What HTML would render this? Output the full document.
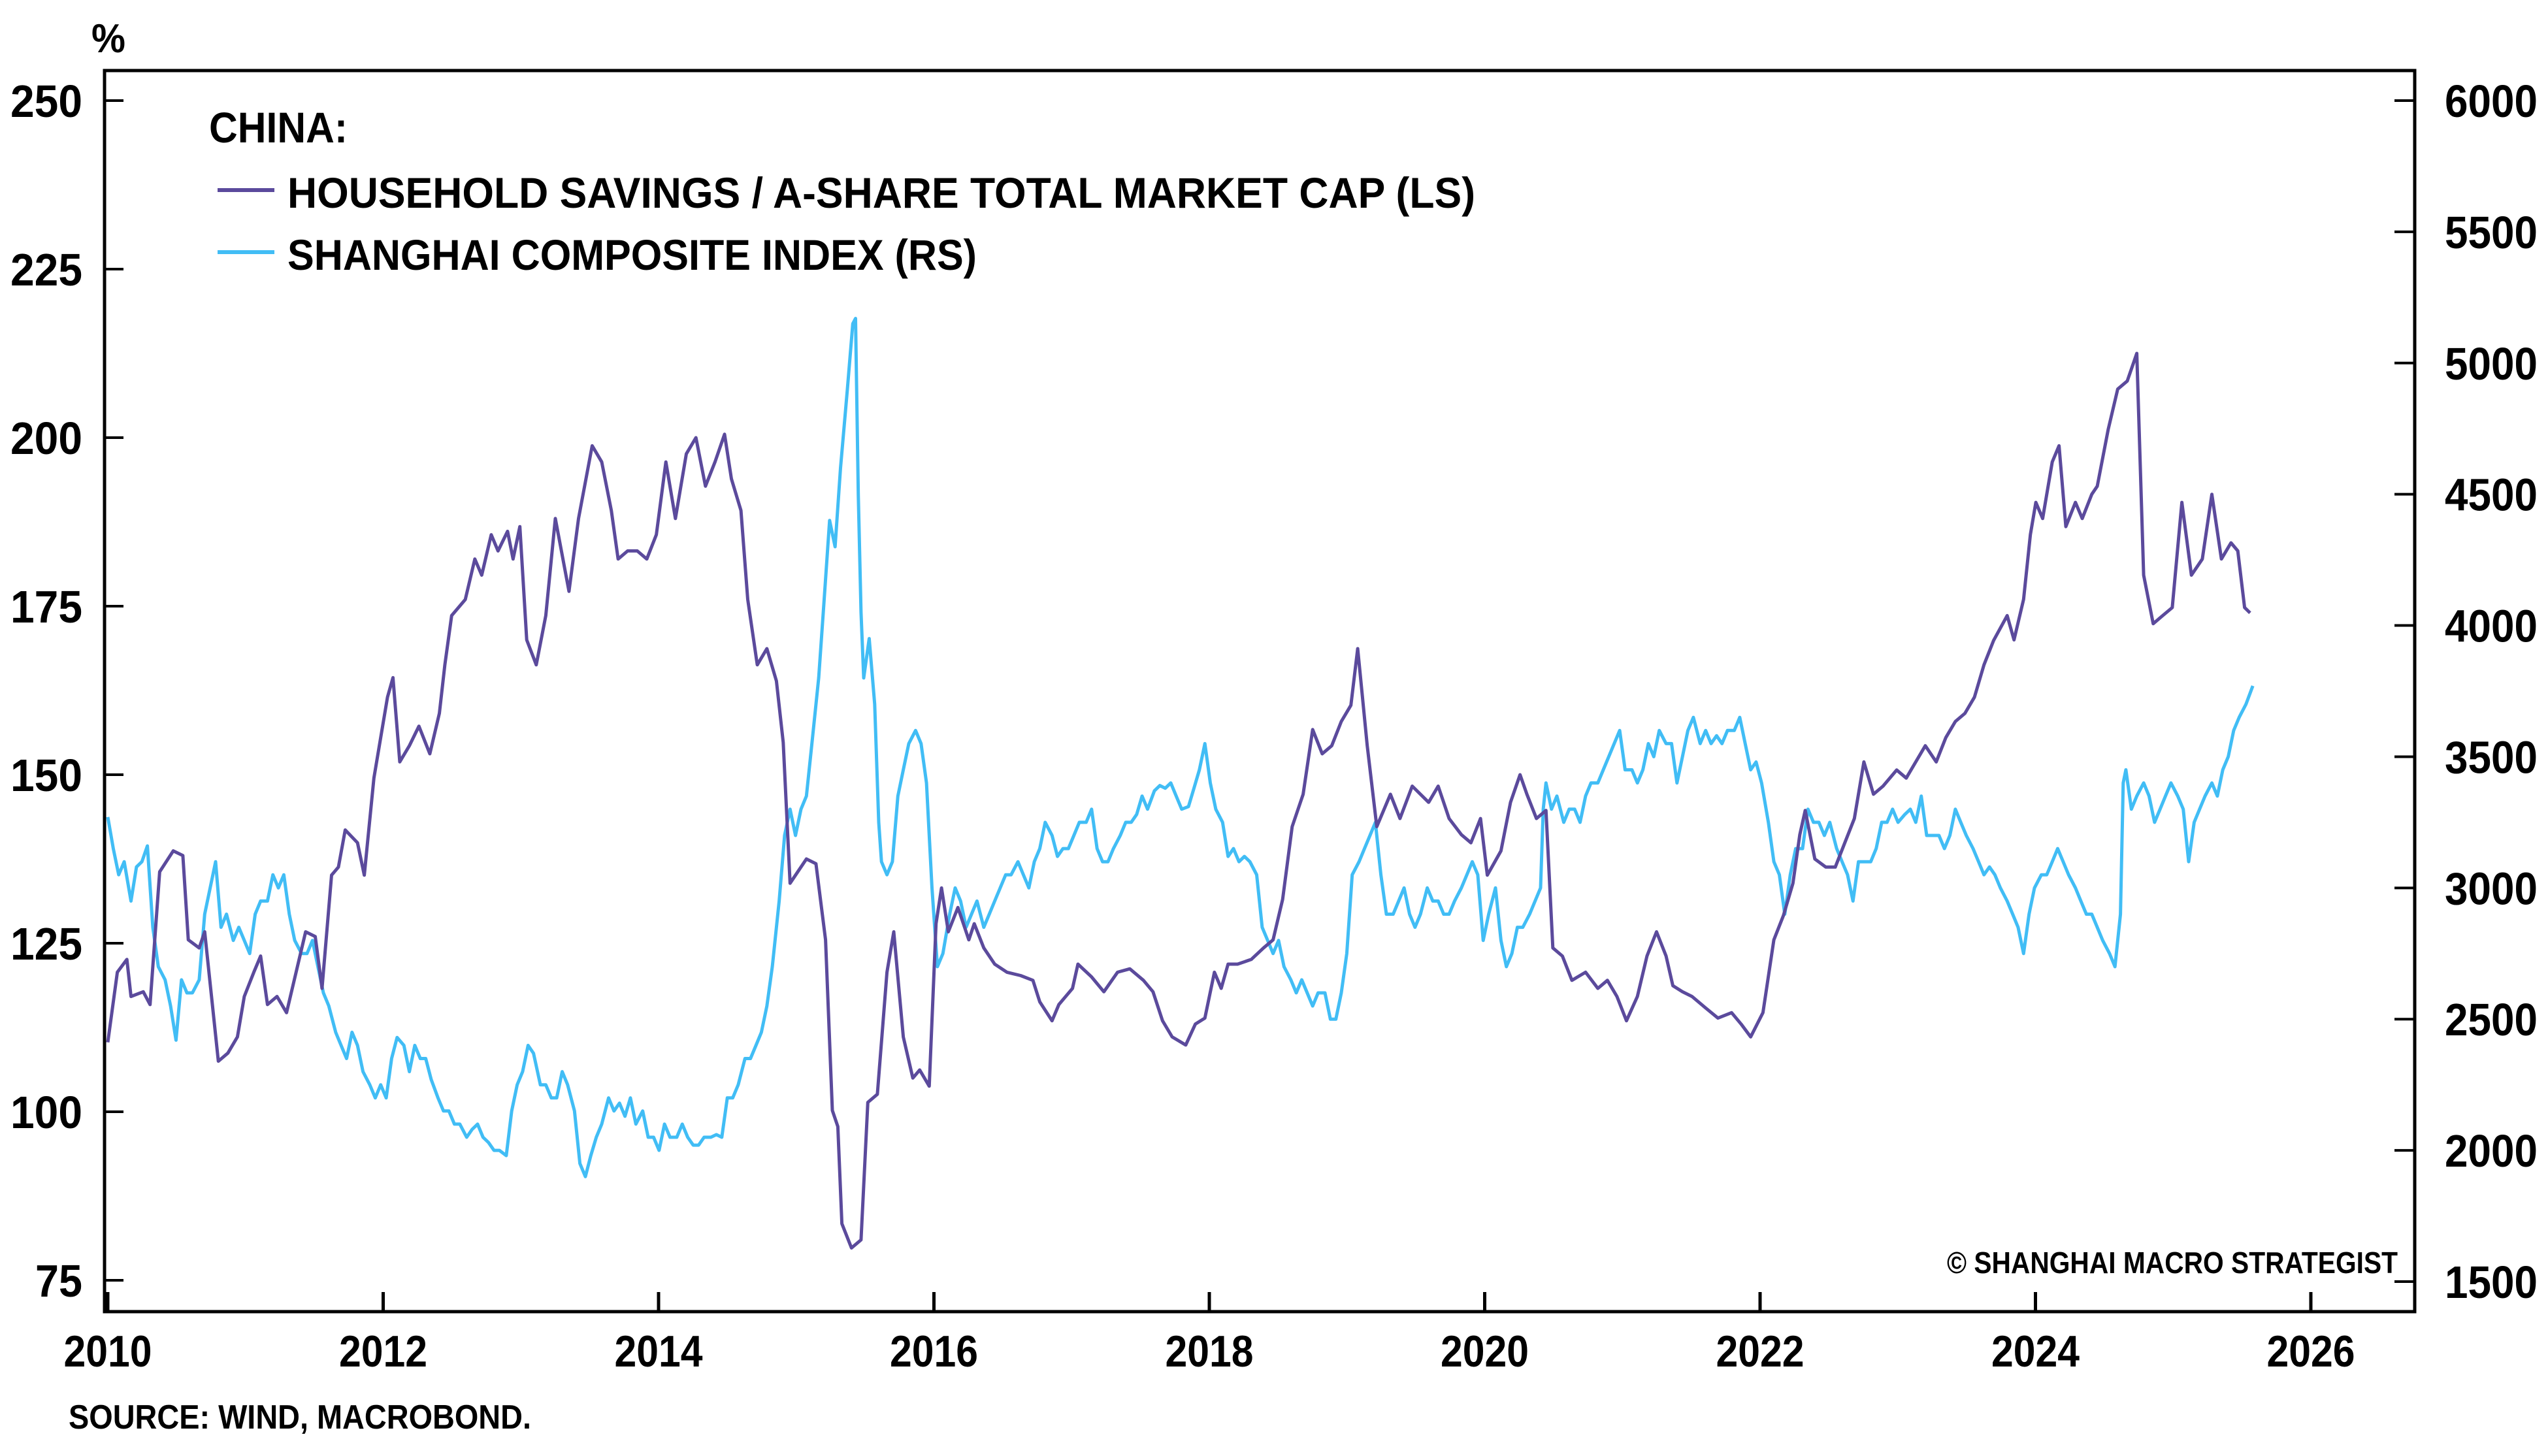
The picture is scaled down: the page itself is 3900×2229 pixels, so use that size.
<!DOCTYPE html>
<html><head><meta charset="utf-8">
<style>
html,body{margin:0;padding:0;background:#fff;}
svg{display:block;font-family:"Liberation Sans",sans-serif;font-weight:bold;}
</style></head>
<body>
<svg id="chart" width="3900" height="2229" viewBox="0 0 3900 2229" xmlns="http://www.w3.org/2000/svg">
<rect x="0" y="0" width="3900" height="2229" fill="#fff"/>
<text x="140" y="80" font-size="62" textLength="52" lengthAdjust="spacingAndGlyphs">%</text>
<g id="axes"></g>
<g id="series"></g>
<rect x="160" y="108" width="3536" height="1900" fill="none" stroke="#000" stroke-width="5"/>
<g>
<text x="320" y="218" font-size="66" textLength="212" lengthAdjust="spacingAndGlyphs">CHINA:</text>
<line x1="333" y1="291" x2="420" y2="291" stroke="#5b4a9c" stroke-width="6"/>
<text x="440" y="318" font-size="66" textLength="1818" lengthAdjust="spacingAndGlyphs">HOUSEHOLD SAVINGS / A-SHARE TOTAL MARKET CAP (LS)</text>
<line x1="333" y1="386" x2="420" y2="386" stroke="#41bdf5" stroke-width="6"/>
<text x="440" y="413" font-size="66" textLength="1055" lengthAdjust="spacingAndGlyphs">SHANGHAI COMPOSITE INDEX (RS)</text>
</g>
<text x="2980" y="1949" font-size="46" textLength="690" lengthAdjust="spacingAndGlyphs">© SHANGHAI MACRO STRATEGIST</text>
<text x="105" y="2187" font-size="52" textLength="708" lengthAdjust="spacingAndGlyphs">SOURCE: WIND, MACROBOND.</text>
</svg>
<script>
const xTicks = [2010,2012,2014,2016,2018,2020,2022,2024,2026];
const leftTicks = [75,100,125,150,175,200,225,250];
const rightTicks = [1500,2000,2500,3000,3500,4000,4500,5000,5500,6000];

// years elapsed since Jan 2010
const savingsT = [0,.07,.14,.17,.26,.31,.38,.48,.55,.59,.67,.71,.81,.88,.95,1.0,1.07,1.12,1.17,1.24,1.31,1.38,1.45,1.52,1.57,1.64,1.69,1.74,1.83,1.88,1.95,2.0,2.05,2.09,2.14,2.21,2.28,2.36,2.43,2.47,2.52,2.62,2.69,2.74,2.81,2.86,2.93,2.97,3.02,3.07,3.14,3.21,3.28,3.38,3.45,3.55,3.62,3.69,3.74,3.81,3.88,3.95,4.02,4.09,4.16,4.24,4.31,4.38,4.45,4.52,4.57,4.64,4.69,4.76,4.83,4.90,4.95,5.0,5.04,5.12,5.19,5.26,5.31,5.35,5.38,5.45,5.52,5.57,5.64,5.71,5.76,5.83,5.90,5.95,6.02,6.07,6.11,6.16,6.23,6.31,6.35,6.42,6.50,6.59,6.69,6.78,6.83,6.92,6.97,7.07,7.11,7.21,7.30,7.40,7.49,7.59,7.66,7.73,7.80,7.90,7.97,8.04,8.11,8.16,8.21,8.28,8.38,8.47,8.54,8.61,8.68,8.76,8.83,8.90,8.97,9.04,9.11,9.16,9.23,9.30,9.40,9.47,9.56,9.68,9.75,9.83,9.92,9.99,10.06,10.11,10.21,10.28,10.35,10.40,10.47,10.54,10.59,10.66,10.73,10.83,10.92,10.99,11.06,11.13,11.21,11.28,11.35,11.42,11.47,11.54,11.61,11.71,11.80,11.90,11.97,12.04,12.13,12.21,12.28,12.35,12.40,12.44,12.51,12.59,12.66,12.73,12.80,12.87,12.94,13.01,13.11,13.18,13.25,13.32,13.40,13.47,13.54,13.61,13.68,13.75,13.82,13.92,13.97,14.04,14.09,14.13,14.18,14.25,14.30,14.35,14.42,14.47,14.54,14.58,14.66,14.73,14.80,14.87,14.92,14.99,15.06,15.13,15.20,15.27,15.35,15.42,15.49,15.56,15.61,15.66,15.70].map(t => t * 0.991);
const savingsV = [110.3,120.7,122.6,117.1,117.8,115.9,135.6,138.7,138,125.5,124.3,126.7,107.5,108.7,111.1,117.1,120.7,123.1,115.9,117.1,114.7,120.7,126.7,126,118.3,135.1,136.3,141.8,139.9,135.1,149.5,155.5,161.5,164.4,151.9,154.3,157.2,153.1,159.1,166.3,173.6,176,182,179.6,185.6,183.2,186.1,182,186.8,170,166.3,173.6,188,177.2,188,198.8,196.4,189.2,182,183.2,183.2,182,185.6,196.4,188,197.6,200,192.8,196.4,200.5,193.9,189.2,176,166.3,168.7,163.9,154.8,133.9,135.1,137.5,136.8,125.5,100.2,97.8,83.4,79.8,81,101.4,102.6,120.7,126.7,111.1,105,106.2,103.8,127.9,133.2,126.7,130.3,125.5,127.9,124.3,121.9,120.7,120.2,119.5,116.3,113.5,115.9,118.3,121.9,120,117.8,120.7,121.2,119.5,117.8,113.5,111.1,109.9,113,113.9,120.7,118.3,121.9,121.9,122.6,124.3,125.5,131.5,142.3,147.1,156.7,153.1,154.3,157.9,160.3,168.7,154.3,142.3,147.1,143.5,148.3,145.9,148.3,143.5,141.1,139.9,143.5,135.1,138.7,145.9,150,147.1,143.5,144.7,124.3,123.1,119.5,120.7,118.3,119.5,117.1,113.5,117.1,123.1,126.7,123.1,118.7,117.8,117.1,115.4,113.9,114.7,113,111.1,114.7,125.5,129.1,133.9,141.1,144.7,137.5,136.3,136.3,139.9,143.5,151.9,147.1,148.3,150.7,149.5,151.9,154.3,151.9,155.5,157.9,159.1,161.5,166.3,169.9,173.6,170,176,185.6,190.4,188,196.4,198.8,186.8,190.4,188,191.6,192.8,201.2,207.2,208.4,212.5,179.6,172.4,173.6,174.8,190.4,179.6,182,191.6,182,184.4,183.2,174.8,174];

const indexT = [0.00,0.04,0.08,0.12,0.17,0.21,0.25,0.29,0.33,0.37,0.42,0.46,0.50,0.54,0.58,0.62,0.67,0.71,0.79,0.83,0.87,0.92,0.96,1.00,1.04,1.08,1.12,1.17,1.21,1.25,1.29,1.33,1.37,1.42,1.46,1.50,1.54,1.58,1.62,1.67,1.71,1.75,1.79,1.83,1.87,1.92,1.96,2.00,2.04,2.08,2.12,2.17,2.21,2.25,2.29,2.33,2.37,2.42,2.46,2.50,2.54,2.58,2.63,2.67,2.71,2.75,2.79,2.83,2.87,2.92,2.96,3.00,3.04,3.08,3.12,3.17,3.21,3.25,3.29,3.33,3.37,3.42,3.46,3.50,3.54,3.58,3.62,3.67,3.71,3.75,3.79,3.83,3.87,3.92,3.96,4.00,4.04,4.08,4.12,4.17,4.21,4.25,4.29,4.33,4.37,4.42,4.46,4.50,4.54,4.58,4.62,4.67,4.71,4.75,4.79,4.83,4.87,4.92,4.96,5.00,5.04,5.08,5.12,5.17,5.21,5.25,5.29,5.33,5.37,5.42,5.46,5.48,5.50,5.52,5.54,5.58,5.62,5.65,5.67,5.71,5.75,5.79,5.83,5.87,5.92,5.96,6.00,6.04,6.08,6.12,6.17,6.21,6.25,6.29,6.33,6.37,6.42,6.46,6.50,6.54,6.58,6.62,6.67,6.71,6.75,6.79,6.83,6.87,6.92,6.96,7.00,7.04,7.08,7.12,7.17,7.21,7.25,7.29,7.33,7.37,7.42,7.46,7.50,7.54,7.58,7.62,7.67,7.71,7.75,7.79,7.83,7.87,7.92,7.96,8.00,8.04,8.08,8.12,8.17,8.21,8.25,8.29,8.33,8.37,8.42,8.46,8.50,8.54,8.58,8.62,8.67,8.71,8.75,8.79,8.83,8.87,8.92,8.96,9.00,9.04,9.08,9.12,9.17,9.21,9.25,9.29,9.33,9.37,9.42,9.46,9.50,9.54,9.58,9.62,9.67,9.71,9.75,9.79,9.83,9.87,9.92,9.96,10.00,10.04,10.08,10.12,10.17,10.21,10.25,10.29,10.33,10.37,10.42,10.46,10.50,10.52,10.54,10.58,10.62,10.67,10.71,10.75,10.79,10.83,10.87,10.92,10.96,11.00,11.04,11.08,11.12,11.17,11.21,11.25,11.29,11.33,11.37,11.42,11.46,11.50,11.54,11.58,11.62,11.67,11.71,11.75,11.79,11.83,11.87,11.92,11.96,12.00,12.04,12.08,12.12,12.17,12.21,12.25,12.29,12.33,12.37,12.42,12.46,12.50,12.54,12.58,12.62,12.67,12.71,12.75,12.79,12.83,12.87,12.92,12.96,13.00,13.04,13.08,13.12,13.17,13.21,13.25,13.29,13.33,13.37,13.42,13.46,13.50,13.54,13.58,13.62,13.67,13.71,13.75,13.79,13.83,13.87,13.92,13.96,14.00,14.04,14.08,14.12,14.17,14.21,14.25,14.29,14.33,14.37,14.42,14.46,14.50,14.54,14.58,14.62,14.67,14.71,14.75,14.77,14.79,14.83,14.87,14.92,14.96,15.00,15.04,15.08,15.12,15.17,15.21,15.25,15.29,15.33,15.37,15.42,15.46,15.50,15.54,15.58,15.62,15.67,15.72].map(t => t * 0.991);
const indexV = [3270,3150,3050,3100,2950,3080,3100,3160,2850,2700,2650,2550,2420,2650,2600,2600,2650,2900,3100,2850,2900,2800,2850,2800,2750,2900,2950,2950,3050,3000,3050,2900,2800,2750,2750,2800,2700,2600,2550,2450,2400,2350,2450,2400,2300,2250,2200,2250,2200,2350,2430,2400,2300,2400,2350,2350,2270,2200,2150,2150,2100,2100,2050,2080,2100,2050,2030,2000,2000,1980,2150,2250,2300,2400,2370,2250,2250,2200,2200,2300,2250,2150,1950,1900,1980,2050,2100,2200,2150,2180,2130,2200,2100,2150,2050,2050,2000,2100,2050,2050,2100,2050,2020,2020,2050,2050,2060,2050,2200,2200,2250,2350,2350,2400,2450,2550,2700,2950,3200,3300,3200,3300,3350,3600,3800,4100,4400,4300,4600,4900,5150,5170,4500,4050,3800,3950,3700,3250,3100,3050,3100,3350,3450,3550,3600,3550,3400,3000,2700,2750,2900,3000,2950,2850,2900,2950,2850,2900,2950,3000,3050,3050,3100,3050,3000,3100,3150,3250,3200,3120,3150,3150,3200,3250,3250,3300,3150,3100,3100,3150,3200,3250,3250,3280,3350,3300,3370,3390,3380,3400,3350,3300,3310,3380,3450,3550,3400,3300,3250,3120,3150,3100,3120,3100,3050,2850,2800,2750,2800,2700,2650,2600,2650,2600,2550,2600,2600,2500,2500,2600,2750,3050,3100,3150,3200,3250,3050,2900,2900,2950,3000,2900,2850,2900,3000,2950,2950,2900,2900,2950,3000,3050,3100,3050,2800,2900,3000,2800,2700,2750,2850,2850,2900,2950,3000,3300,3400,3300,3350,3250,3300,3300,3250,3350,3400,3400,3450,3500,3550,3600,3450,3450,3400,3450,3550,3500,3600,3550,3550,3400,3500,3600,3650,3550,3600,3550,3580,3550,3600,3600,3650,3550,3450,3480,3400,3250,3100,3050,2900,3050,3150,3150,3300,3250,3250,3200,3250,3150,3100,3050,2950,3100,3100,3100,3150,3250,3250,3300,3250,3280,3300,3250,3350,3200,3200,3200,3150,3200,3300,3250,3200,3150,3100,3050,3080,3050,3000,2950,2900,2850,2750,2900,3000,3050,3050,3100,3150,3100,3050,3000,2950,2900,2900,2850,2800,2750,2700,2900,3400,3450,3300,3350,3400,3350,3250,3300,3350,3400,3350,3300,3100,3250,3300,3350,3400,3350,3450,3500,3600,3650,3700,3770];

const NS = 'http://www.w3.org/2000/svg';
const xOf = t => 165 + t * 210.75;
const xYear = y => xOf(y - 2010);
const yLeft = v => 154 + (250 - v) * 10.32;
const yRight = v => 1962 - (v - 1500) * 0.40178;

const axes = document.getElementById('axes');
const series = document.getElementById('series');
function mk(tag, attrs, parent) {
  const el = document.createElementNS(NS, tag);
  for (const k in attrs) el.setAttribute(k, attrs[k]);
  parent.appendChild(el);
  return el;
}

xTicks.forEach(yr => {
  const x = xYear(yr);
  const tk = mk('line', {x1: x, y1: 2008, x2: x, y2: 1978, stroke: '#000', 'stroke-width': 5}, axes);
  
  
  const lb = mk('text', {x: x, y: 2092, 'font-size': 68, 'text-anchor': 'middle', textLength: 135, lengthAdjust: 'spacingAndGlyphs'}, axes);
  lb.textContent = yr;
  
  
});
leftTicks.forEach(v => {
  const y = yLeft(v);
  const tk = mk('line', {x1: 160, y1: y, x2: 189, y2: y, stroke: '#000', 'stroke-width': 4}, axes);
  
  
  const lb = mk('text', {x: 126, y: y + 25, 'font-size': 70, 'text-anchor': 'end'}, axes);
  if (v < 100) { lb.setAttribute('textLength', 72); } else { lb.setAttribute('textLength', 110); }
  lb.setAttribute('lengthAdjust', 'spacingAndGlyphs');
  lb.textContent = v;
  
  
});
rightTicks.forEach(v => {
  const y = yRight(v);
  const tk = mk('line', {x1: 3665, y1: y, x2: 3696, y2: y, stroke: '#000', 'stroke-width': 4}, axes);
  
  
  const lb = mk('text', {x: 3742, y: y + 25, 'font-size': 70, textLength: 142, lengthAdjust: 'spacingAndGlyphs'}, axes);
  lb.textContent = v;
  
  
});

function pathD(ts, vs, yf) {
  return ts.map((t, i) => (i ? 'L' : 'M') + xOf(t).toFixed(1) + ',' + yf(vs[i]).toFixed(1)).join(' ');
}
const blue = mk('path', {d: pathD(indexT, indexV, yRight), fill: 'none', stroke: '#41bdf5', 'stroke-width': 5, 'stroke-linejoin': 'round'}, series);


const purple = mk('path', {d: pathD(savingsT, savingsV, yLeft), fill: 'none', stroke: '#5b4a9c', 'stroke-width': 5, 'stroke-linejoin': 'round'}, series);


</script>
</body></html>
